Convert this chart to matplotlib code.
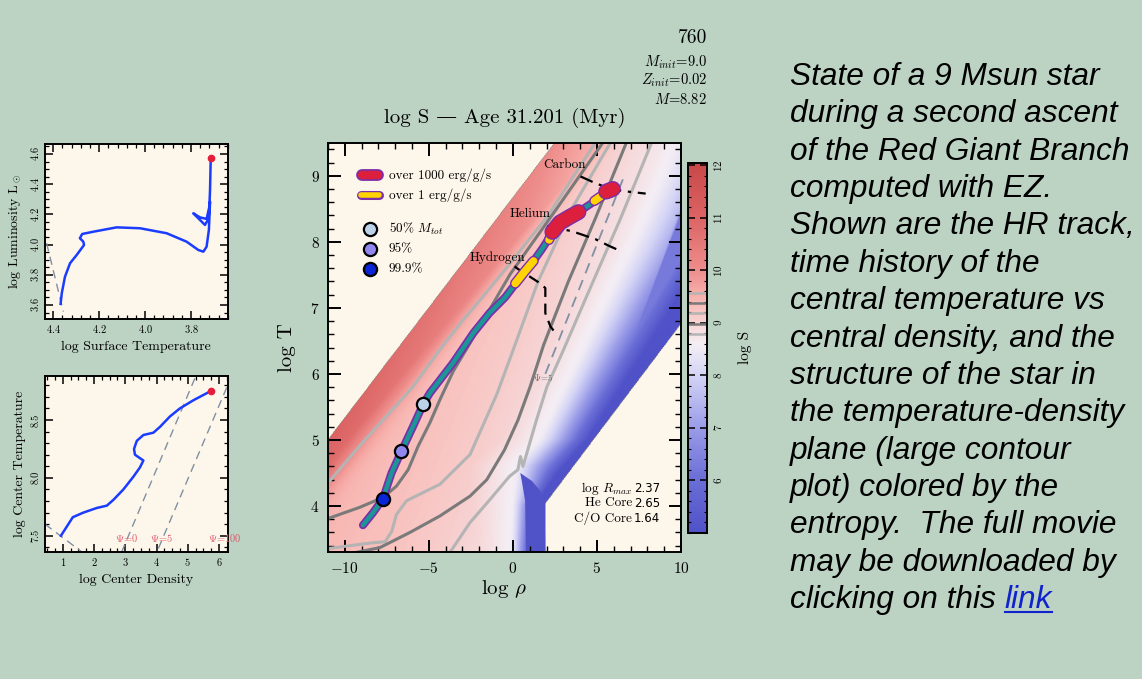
import numpy as np
import matplotlib
matplotlib.use("Agg")
import matplotlib.pyplot as plt
import matplotlib.patheffects as pe
from matplotlib.colors import LinearSegmentedColormap
from matplotlib.ticker import MultipleLocator, FormatStrFormatter
from matplotlib.lines import Line2D

plt.rcParams.update({
    'font.family': ['cmr10', 'DejaVu Serif'],
    'mathtext.fontset': 'cm',
    'axes.formatter.use_mathtext': True,
    'axes.linewidth': 1.4,
    'xtick.direction': 'in',
    'ytick.direction': 'in',
    'xtick.top': True,
    'ytick.right': True,
})

SAGE = '#bcd3c4'
CREAM = '#fdf6ea'
TRACK_BLUE = '#1a3cff'
DOT_RED = '#e41f3c'
PSI_GRAY = '#8090a4'
PSI_RED = '#e05a6e'
LIGHT_GRAY = '#b4b4b4'
DARK_GRAY = '#7a7a7a'
PURPLE = '#7b2fa8'
TEAL = '#1a9696'
BURN_RED = '#dc1f3c'
BURN_YELLOW = '#ffd400'

# ---------------- HR diagram ----------------
hr_logteff = [4.368, 4.363, 4.349, 4.327, 4.298, 4.266, 4.269, 4.284, 4.274, 4.226,
              4.124, 4.022, 3.906, 3.819, 3.768, 3.746, 3.732, 3.722, 3.717, 3.724,
              3.739, 3.790, 3.761, 3.732, 3.720, 3.717, 3.714]
hr_logl = [3.607, 3.677, 3.787, 3.876, 3.931, 3.997, 4.019, 4.042, 4.070, 4.085,
           4.114, 4.108, 4.075, 4.019, 3.964, 3.953, 3.986, 4.097, 4.284, 4.170,
           4.130, 4.207, 4.180, 4.170, 4.250, 4.360, 4.572]
hr_zams_logteff = [4.429, 4.356]
hr_zams_logl = [4.009, 3.556]

# ---------------- central conditions ----------------
c_logrho = [0.94, 1.13, 1.32, 1.66, 2.09, 2.41, 2.62, 2.94, 3.26, 3.47, 3.58, 3.47,
            3.31, 3.28, 3.37, 3.58, 3.90, 4.11, 4.43, 4.75, 5.18, 5.74]
c_logt = [7.50, 7.58, 7.66, 7.70, 7.74, 7.76, 7.81, 7.90, 8.01, 8.09, 8.15, 8.17,
          8.20, 8.25, 8.32, 8.37, 8.39, 8.44, 8.53, 8.60, 8.67, 8.75]
c_psi0_rho = [2.88, 5.26]
c_psi0_t = [7.357, 8.88]
c_psi5_rho = [4.06, 6.28]
c_psi5_t = [7.39, 8.80]
c_low_rho = [0.43, 1.61]
c_low_t = [7.60, 7.36]
c_psi_labels = [r'$\Psi$=0', r'$\Psi$=5', r'$\Psi$=100']
c_psi_label_rho = [3.05, 4.17, 6.19]

# ---------------- structure profile (log rho, log T) ----------------
track_rho = [-8.92, -8.32, -7.73, -7.22, -6.63, -5.93, -5.34, -4.94, -3.55, -2.35,
             -1.40, -0.46, 0.14, 1.23, 1.73, 2.23, 2.72, 3.52, 4.02, 4.72, 5.21,
             5.71, 5.90]
track_t = [3.71, 3.90, 4.11, 4.50, 4.83, 5.21, 5.54, 5.71, 6.17, 6.62,
           6.92, 7.16, 7.36, 7.71, 7.89, 8.09, 8.27, 8.39, 8.47, 8.59, 8.69,
           8.77, 8.79]
mass_pts_rho = [-5.34, -6.63, -7.73]
mass_pts_t = [5.54, 4.83, 4.11]
mass_labels = [r'50% $M_{tot}$', '95%', '99.9%']
mass_colors = ['#bcd2e8', '#9088f0', '#0a24d8']

yellow_segs = [([0.14, 0.70, 1.23], [7.37, 7.55, 7.71]),
               ([2.15, 2.30], [8.03, 8.12]),
               ([3.92, 4.05], [8.45, 8.48]),
               ([4.85, 5.30], [8.62, 8.70])]
red_segs = [([2.35, 2.80, 3.40, 3.90], [8.15, 8.29, 8.38, 8.45]),
            ([5.55, 5.95], [8.76, 8.80])]

# isentropes (light / dark gray alternate)
iso_levels = [9.57, 9.37, 9.18, 8.98, 8.79]
iso_colors = [LIGHT_GRAY, DARK_GRAY, LIGHT_GRAY, DARK_GRAY, LIGHT_GRAY]
iso_rho = [
    [-10.9, -9.12, -7.52, -5.93, -4.34, -2.95, -1.95, -0.40, 2.10, 4.90],
    [-10.9, -9.12, -7.73, -6.93, -6.23, -5.63, -4.94, -4.34, -3.55, -2.75, -0.16, 2.60, 5.35],
    [-10.9, -8.50, -7.60, -7.20, -6.93, -6.33, -4.34, -2.55, -0.96, -0.16, 1.50, 3.50, 5.80],
    [-9.30, -7.92, -6.13, -4.34, -2.55, -1.55, -0.50, 0.30, 1.03, 1.83, 3.30, 4.90, 6.75],
    [-3.74, -2.55, -1.36, -0.20, 0.30, 0.45, 0.60, 0.84, 1.40, 2.03, 2.90, 4.60, 6.40, 8.25],
]
iso_t = [
    [4.38, 4.91, 5.36, 5.81, 6.37, 6.82, 7.12, 7.60, 8.40, 9.50],
    [3.82, 3.98, 4.13, 4.30, 4.55, 4.91, 5.26, 5.61, 6.04, 6.38, 7.51, 8.50, 9.50],
    [3.36, 3.44, 3.46, 3.62, 3.87, 4.08, 4.33, 4.78, 5.69, 6.24, 7.40, 8.50, 9.50],
    [3.30, 3.37, 3.60, 3.85, 4.15, 4.40, 4.85, 5.30, 5.81, 6.44, 7.40, 8.35, 9.50],
    [3.30, 3.75, 4.10, 4.45, 4.55, 4.75, 4.60, 4.81, 5.30, 5.81, 6.30, 7.30, 8.35, 9.50],
]
psi5_rho = [1.93, 6.66]
psi5_t = [6.00, 9.02]
h_burn_rho = [0.10, 0.24, 1.63, 1.93, 1.93, 2.23, 2.53]
h_burn_t = [7.63, 7.60, 7.37, 7.30, 6.92, 6.72, 6.62]
he_burn_rho = [2.03, 3.52, 4.91, 5.71, 6.41]
he_burn_t = [8.24, 8.16, 8.04, 7.94, 7.86]
c_burn_rho = [4.02, 4.80, 5.50, 6.50, 7.90]
c_burn_t = [8.99, 8.90, 8.83, 8.77, 8.73]
burn_labels = ['Carbon', 'Helium', 'Hydrogen']
burn_label_rho = [3.09, 1.01, -0.90]
burn_label_t = [9.16, 8.42, 7.76]
info_labels = [r'log $R_{max}$', 'He Core', 'C/O Core']
info_values = ['2.37', '2.65', '1.64']
info_t = [4.27, 4.04, 3.81]

# entropy map shape
white_t = [3.3, 4.0, 4.6, 5.0, 8.17, 9.5]
white_rho = [-0.1, 0.0, 0.2, 1.6, 7.6, 9.8]
blue_t = [3.3, 4.0, 4.5, 5.0, 7.26, 9.5]
blue_rho = [1.0, 1.3, 2.6, 4.35, 10.0, 16.0]
column_rho = [0.44, 1.13, 1.63, 1.89, 1.93, 0.78, 0.73, 0.55]
column_t = [4.50, 4.38, 4.23, 4.03, 3.30, 3.30, 4.08, 4.35]

cb_pos = [5.0, 6.0, 7.0, 8.0, 8.6, 9.3, 9.6, 10.0, 11.0, 12.05]
cb_hex = ['#5052c8', '#6a6ed6', '#9a9ce8', '#d4d4f6', '#f4eef4', '#f9c0bc',
          '#f6aaa6', '#ee8e8c', '#dc6464', '#c84848']
VMIN, VMAX = 5.0, 12.05
cmap = LinearSegmentedColormap.from_list(
    'logs', [((p - VMIN) / (VMAX - VMIN), c) for p, c in zip(cb_pos, cb_hex)])
cmap.set_bad((0, 0, 0, 0))

# entropy field: radiation + ideal gas with a degenerate fall-off
gx = np.linspace(-11, 10, 700)
gy = np.linspace(3.3, 9.5, 420)
X, Y = np.meshgrid(gx, gy)
s_rad = 10 ** (3 * Y - X - 14.0)
s_gas = 1.85e8 * np.clip(1.5 * Y - X - 2.62, 0.01, None)
logs_base = np.log10(s_rad + s_gas)
xw = np.interp(Y, white_t, white_rho)
xb = np.interp(Y, blue_t, blue_rho)
tt = (X - xw) / (xb - xw)
logs_deg = np.where(tt > 0, 8.55 - 3.4 * np.clip(tt, 0, None) ** 1.2, 8.55 + 0.2 * (xw - X))
logs = np.minimum(logs_base, logs_deg)
outside = (3 * Y - X > 26.0) | ((X > 1.93) & (Y < 4.03 + 0.337 * (X - 1.93)))
logs[outside] = np.nan

fig = plt.figure(figsize=(11.42, 6.79), dpi=100)
fig.patch.set_facecolor(SAGE)


def small_ticks(ax):
    ax.tick_params(which='major', length=6, width=1.1, labelsize=7.5, pad=3)
    ax.tick_params(which='minor', length=3, width=0.9)
    for lab in ax.get_yticklabels():
        lab.set_rotation(90)
        lab.set_va('center')


# HR panel
ax_hr = fig.add_axes([0.0394, 0.5302, 0.16, 0.2577])
ax_hr.set_facecolor(CREAM)
ax_hr.plot(hr_zams_logteff, hr_zams_logl, color=PSI_GRAY, lw=1, dashes=(6, 4))
ax_hr.plot(hr_logteff, hr_logl, color=TRACK_BLUE, lw=1.8)
ax_hr.plot(hr_logteff[-1], hr_logl[-1], 'o', color=DOT_RED, ms=4.5)
ax_hr.set_xlim(4.436, 3.64)
ax_hr.set_ylim(3.507, 4.666)
ax_hr.set_xticks([4.4, 4.2, 4.0, 3.8])
ax_hr.set_yticks([3.6, 3.8, 4.0, 4.2, 4.4, 4.6])
ax_hr.xaxis.set_minor_locator(MultipleLocator(0.04))
ax_hr.yaxis.set_minor_locator(MultipleLocator(0.05))
ax_hr.set_xlabel('log Surface Temperature', fontsize=10, labelpad=4)
ax_hr.set_ylabel(r'log Luminosity L$_\odot$', fontsize=10, labelpad=4)
small_ticks(ax_hr)

# central conditions panel
ax_c = fig.add_axes([0.0394, 0.1866, 0.16, 0.2597])
ax_c.set_facecolor(CREAM)
for xs, ys in [(c_low_rho, c_low_t), (c_psi0_rho, c_psi0_t), (c_psi5_rho, c_psi5_t)]:
    ax_c.plot(xs, ys, color=PSI_GRAY, lw=1, dashes=(6, 4))
ax_c.plot(c_logrho, c_logt, color=TRACK_BLUE, lw=1.8)
ax_c.plot(c_logrho[-1], c_logt[-1], 'o', color=DOT_RED, ms=4.5)
for lab, xr in zip(c_psi_labels, c_psi_label_rho):
    ax_c.text(xr, 7.48, lab, color=PSI_RED, fontsize=7.5, ha='center', va='center',
              clip_on=False)
ax_c.set_xlim(0.43, 6.28)
ax_c.set_ylim(7.357, 8.88)
ax_c.set_xticks([1, 2, 3, 4, 5, 6])
ax_c.set_yticks([7.5, 8.0, 8.5])
ax_c.yaxis.set_major_formatter(FormatStrFormatter('%.1f'))
ax_c.xaxis.set_minor_locator(MultipleLocator(0.25))
ax_c.yaxis.set_minor_locator(MultipleLocator(0.1))
ax_c.set_xlabel('log Center Density', fontsize=10, labelpad=4)
ax_c.set_ylabel('log Center Temperature', fontsize=10, labelpad=4)
small_ticks(ax_c)

# main entropy panel
ax = fig.add_axes([0.2872, 0.1866, 0.3091, 0.6032])
ax.set_facecolor(CREAM)
im = ax.imshow(logs, extent=[-11, 10, 3.3, 9.5], origin='lower', aspect='auto',
               cmap=cmap, vmin=VMIN, vmax=VMAX, interpolation='bilinear', zorder=0)
ax.fill(column_rho, column_t, color=cb_hex[0], lw=0, zorder=1)

for xs, ys, col in zip(iso_rho, iso_t, iso_colors):
    ax.plot(xs, ys, color=col, lw=2.2, solid_joinstyle='round', zorder=2)
ax.plot(psi5_rho, psi5_t, color=PSI_GRAY, lw=1.3, dashes=(6, 4), zorder=3)
ax.text(1.8, 5.95, r'$\Psi$=5', color='#6a6a6a', fontsize=6.5, ha='center',
        va='center', zorder=3)
ax.plot(h_burn_rho, h_burn_t, color='black', lw=1.6, dashes=(5, 3), zorder=3)
ax.plot(he_burn_rho, he_burn_t, color='black', lw=1.6, dashes=(6, 3, 1.5, 3), zorder=3)
ax.plot(c_burn_rho, c_burn_t, color='black', lw=1.6, dashes=(6, 3, 1.5, 3), zorder=3)

outline = lambda w: [pe.Stroke(linewidth=w, foreground=PURPLE), pe.Normal()]
ax.plot(track_rho, track_t, color=TEAL, lw=3.2, solid_capstyle='round',
        path_effects=outline(5.8), zorder=5)
for xs, ys in yellow_segs:
    ax.plot(xs, ys, color=BURN_YELLOW, lw=5.5, solid_capstyle='round',
            path_effects=outline(7.5), zorder=6)
for xs, ys in red_segs:
    ax.plot(xs, ys, color=BURN_RED, lw=9.5, solid_capstyle='round',
            path_effects=outline(11.5), zorder=7)
for xr, yt, col in zip(mass_pts_rho, mass_pts_t, mass_colors):
    ax.plot(xr, yt, 'o', ms=9.5, mfc=col, mec='black', mew=1.6, zorder=8)

for lab, xr, yt in zip(burn_labels, burn_label_rho, burn_label_t):
    ax.text(xr, yt, lab, fontsize=9.5, ha='center', va='center', zorder=9)
for lab, val, yt in zip(info_labels, info_values, info_t):
    ax.text(7.1, yt, lab, fontsize=9.5, ha='right', va='center', zorder=9)
    ax.text(7.2, yt, val, fontsize=8.5, ha='left', va='center', family='DejaVu Sans',
            zorder=9)

# legend drawn in axes fractions
tr = ax.transAxes
ax.plot([0.097, 0.142], [0.920, 0.920], transform=tr, color=BURN_RED, lw=6,
        solid_capstyle='round', path_effects=outline(8.5), zorder=9)
ax.plot([0.094, 0.145], [0.872, 0.872], transform=tr, color=BURN_YELLOW, lw=4,
        solid_capstyle='round', path_effects=outline(6.5), zorder=9)
ax.text(0.172, 0.920, 'over 1000 erg/g/s', transform=tr, fontsize=9.5, va='center')
ax.text(0.172, 0.872, 'over 1 erg/g/s', transform=tr, fontsize=9.5, va='center')
for lab, col, yf in zip(mass_labels, mass_colors, [0.789, 0.740, 0.692]):
    ax.plot(0.118, yf, 'o', transform=tr, ms=9.5, mfc=col, mec='black', mew=1.6,
            zorder=9)
    ax.text(0.172, yf, lab, transform=tr, fontsize=9.5, va='center')

ax.set_xlim(-11, 10)
ax.set_ylim(3.3, 9.5)
ax.set_xticks([-10, -5, 0, 5, 10])
ax.set_yticks([4, 5, 6, 7, 8, 9])
ax.xaxis.set_minor_locator(MultipleLocator(1))
ax.yaxis.set_minor_locator(MultipleLocator(0.2))
ax.tick_params(which='major', length=9, width=1.4, labelsize=11, pad=6)
ax.tick_params(which='minor', length=4.5, width=1.0)
ax.set_xlabel(r'log $\rho$', fontsize=15, labelpad=2)
ax.set_ylabel('log T', fontsize=15, labelpad=10)

# colorbar
cax = fig.add_axes([0.6027, 0.2155, 0.0166, 0.5449])
cb = fig.colorbar(im, cax=cax)
cb.set_ticks([6, 7, 8, 9, 10, 11, 12])
cb.ax.yaxis.set_minor_locator(MultipleLocator(0.2))
cb.ax.tick_params(which='major', length=5, width=1.1, labelsize=8, left=True, right=True)
cb.ax.tick_params(which='minor', length=2.5, width=0.8, left=True, right=True)
for lab in cb.ax.get_yticklabels():
    lab.set_rotation(90)
    lab.set_va('center')
for lev, col in zip(iso_levels, iso_colors):
    cb.ax.axhline(lev, color=col, lw=1.8)
cb.set_label('log S', fontsize=11, labelpad=10)
cb.outline.set_linewidth(1.4)

# header texts
fig.text(0.4418, 0.826, 'log S \u2014 Age 31.201 (Myr)', ha='center', va='center', fontsize=15)
fig.text(0.619, 0.944, '760', ha='right', va='center', fontsize=14)
for s, yf in zip([r'$M_{init}$=9.0', r'$Z_{init}$=0.02', r'$M$=8.82'],
                 [0.9087, 0.882, 0.854]):
    fig.text(0.619, yf, s, ha='right', va='center', fontsize=10.5)

# description
desc = ["State of a 9 Msun star", "during a second ascent", "of the Red Giant Branch",
        "computed with EZ.", "Shown are the HR track,", "time history of the",
        "central temperature vs", "central density, and the", "structure of the star in",
        "the temperature-density", "plane (large contour", "plot) colored by the",
        "entropy.  The full movie", "may be downloaded by", "clicking on this "]
desc_font = dict(family='Liberation Sans', style='italic', fontsize=22.8)
x0 = 790 / 1142
last = None
for i, s in enumerate(desc):
    yc = 1 - (77 + 37.36 * i) / 679
    last = fig.text(x0, yc, s, ha='left', va='center', **desc_font)
renderer = fig.canvas.get_renderer()
bb = last.get_window_extent(renderer)
link = fig.text(bb.x1 / fig.bbox.width, last.get_position()[1], 'link', ha='left',
                va='center', color='#1022cc', **desc_font)
lb = link.get_window_extent(renderer)
yline = (lb.y0 + 3) / fig.bbox.height
fig.add_artist(Line2D([lb.x0 / fig.bbox.width, lb.x1 / fig.bbox.width], [yline, yline],
                      color='#1022cc', lw=1.5))

fig.savefig('out.png', dpi=100, facecolor=fig.get_facecolor())
